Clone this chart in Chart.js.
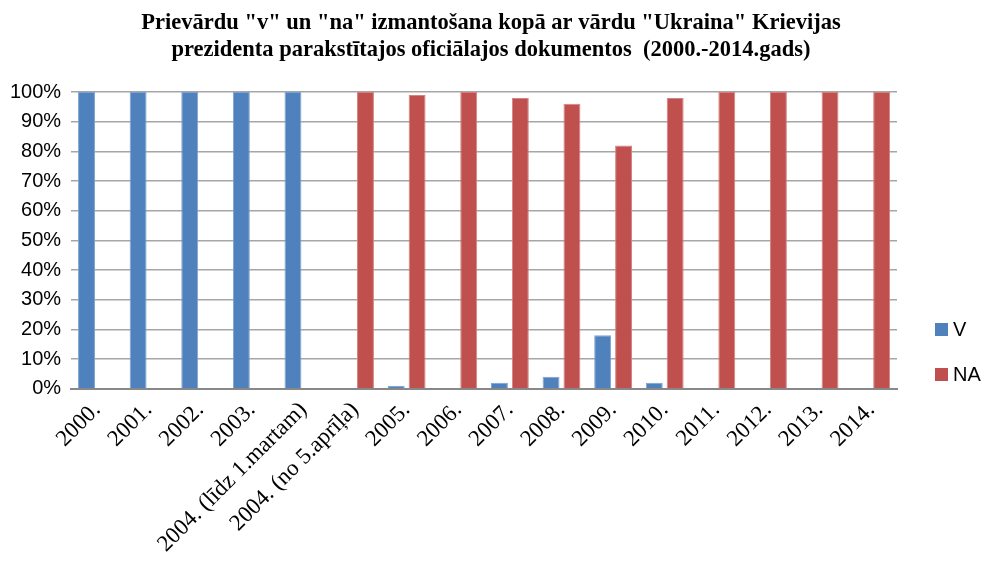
<!DOCTYPE html>
<html>
<head>
<meta charset="utf-8">
<script src="https://cdn.jsdelivr.net/npm/chart.js@4.4.1/dist/chart.umd.min.js"></script>
<style>
  html, body { margin: 0; padding: 0; background: #fff; }
  #wrap { width: 982px; height: 562px; position: relative; }
  #legend { position: absolute; left: 935px; top: 318px; font: 20px "Liberation Sans", Arial, sans-serif; color: #000; }
  #legend .item { display: flex; align-items: center; height: 22px; margin-bottom: 23px; }
  #legend .box { width: 13px; height: 13px; margin-right: 5px; }
</style>
</head>
<body>
<div id="wrap"><canvas id="chart"></canvas><div id="legend"></div></div>
<script>
// Categories and values (percent)
const years = ['2000.', '2001.', '2002.', '2003.', '2004. (līdz 1.martam)', '2004. (no 5.aprīļa)',
  '2005.', '2006.', '2007.', '2008.', '2009.', '2010.', '2011.', '2012.', '2013.', '2014.']
const vValues = [100, 100, 100, 100, 100, 0, 1, 0, 2, 4, 18, 2, 0, 0, 0, 0]
const naValues = [0, 0, 0, 0, 0, 100, 99, 100, 98, 96, 82, 98, 100, 100, 100, 100]
const yTicks = [0, 10, 20, 30, 40, 50, 60, 70, 80, 90, 100]

const titleLines = [
  'Prievārdu "v" un "na" izmantošana kopā ar vārdu "Ukraina" Krievijas',
  'prezidenta parakstītajos oficiālajos dokumentos  (2000.-2014.gads)'
]

const ctx = document.getElementById('chart').getContext('2d')

const chart = new Chart(ctx, {
  type: 'bar',
  data: {
    labels: years,
    datasets: [
      {
        label: 'V',
        data: vValues,
        backgroundColor: '#4F81BD',
        borderColor: '#7FA3D1',
        borderWidth: 1,
        categoryPercentage: 0.81,
        barPercentage: 0.81
      },
      {
        label: 'NA',
        data: naValues,
        backgroundColor: '#C0504D',
        borderColor: '#D28482',
        borderWidth: 1,
        categoryPercentage: 0.81,
        barPercentage: 0.81
      }
    ]
  },
  options: {
    responsive: true,
    maintainAspectRatio: false,
    animation: false,
    layout: { padding: { left: 0, right: 0, top: 6, bottom: 4 } },
    plugins: {
      title: {
        display: true,
        text: titleLines,
        color: '#000',
        font: { family: '"Liberation Serif", "Times New Roman", serif', size: 22.5, weight: 'bold' },
        lineHeight: 1.15,
        padding: { top: 4, bottom: 28 }
      },
      legend: { display: false },
      tooltip: { enabled: false }
    },
    scales: {
      x: {
        grid: { display: false },
        border: { color: '#888', width: 2 },
        ticks: {
          color: '#000',
          minRotation: 45,
          maxRotation: 45,
          autoSkip: false,
          padding: 0,
          font: { family: '"Liberation Serif", "Times New Roman", serif', size: 23 }
        }
      },
      y: {
        min: 0,
        max: 100,
        afterBuildTicks: function(axis) {
          axis.ticks = yTicks.map(v => ({ value: v }))
        },
        grid: { color: '#A6A6A6', lineWidth: 1.5, drawTicks: false },
        border: { display: false },
        ticks: {
          color: '#000',
          padding: 10,
          callback: function(value) { return value + '%' },
          font: { family: '"Liberation Sans", Arial, sans-serif', size: 20 }
        }
      },
      // empty right-hand axis: keeps room for the legend, title stays centred on the page
      legendSpace: {
        position: 'right',
        min: 0,
        max: 100,
        grid: { drawOnChartArea: false, drawTicks: false },
        border: { display: false },
        ticks: { display: false },
        afterFit: function(axis) { axis.width = 85 }
      }
    }
  }
})

// Legend built from the datasets
const legendEl = document.getElementById('legend')
chart.data.datasets.forEach(ds => {
  const item = document.createElement('div')
  item.className = 'item'
  const box = document.createElement('span')
  box.className = 'box'
  box.style.background = ds.backgroundColor
  const txt = document.createElement('span')
  txt.textContent = ds.label
  item.appendChild(box)
  item.appendChild(txt)
  legendEl.appendChild(item)
})
</script>
</body>
</html>
